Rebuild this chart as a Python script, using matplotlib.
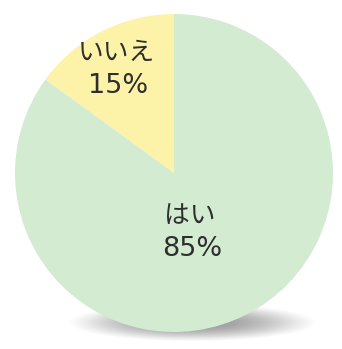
import numpy as np
import matplotlib
matplotlib.use("Agg")
import matplotlib.pyplot as plt

plt.rcParams['font.family'] = ['Noto Sans CJK JP', 'DejaVu Sans']

labels = ["いいえ", "はい"]
values = [15, 85]
colors = ["#fdf3a8", "#d3ebd1"]

W, H = 342, 349
fig = plt.figure(figsize=(W/100, H/100), dpi=100)
ax = fig.add_axes([0, 0, 1, 1])
ax.set_xlim(0, W)
ax.set_ylim(0, H)
ax.set_aspect('equal')
ax.axis('off')

cx, cy, r = 174, 349 - 173, 159

# soft shadow under the pie
yy, xx = np.mgrid[0:H, 0:W]
sx, sy = 192, 349 - 323
d = ((xx - sx) / 125.0) ** 2 + ((yy - sy) / 19.0) ** 2
alpha = np.clip(1.0 - d, 0, 1) ** 1.3 * 0.7
img = np.zeros((H, W, 4))
img[..., 0] = 0.42
img[..., 1] = 0.42
img[..., 2] = 0.42
img[..., 3] = alpha
ax.imshow(img, extent=(0, W, 0, H), origin='lower', zorder=0, interpolation='bilinear')

ax.pie(values, colors=colors, startangle=90, counterclock=True,
       center=(cx, cy), radius=r, wedgeprops=dict(linewidth=0),
       frame=True)
ax.set_xlim(0, W)
ax.set_ylim(0, H)
ax.axis('off')

tc = "#2e2e2e"
pf = ['DejaVu Sans']
ax.text(116, 349 - 53, labels[0], ha='center', va='center', fontsize=18.5, color=tc)
ax.text(118, 349 - 86, f"{values[0]}%", ha='center', va='center', fontsize=19.5, color=tc, family=pf)
ax.text(190, 349 - 216, labels[1], ha='center', va='center', fontsize=18.5, color=tc)
ax.text(192, 349 - 249, f"{values[1]}%", ha='center', va='center', fontsize=19.5, color=tc, family=pf)

fig.savefig("out.png", dpi=100)
